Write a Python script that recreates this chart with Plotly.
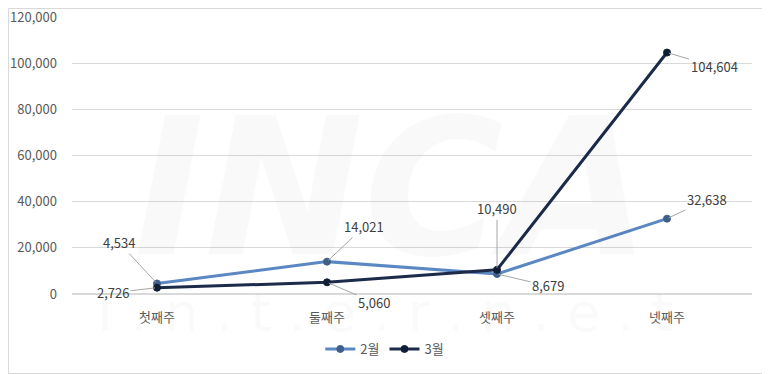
import plotly.graph_objects as go

categories = ["첫째주", "둘째주", "셋째주", "넷째주"]
series_names = ["2월", "3월"]
feb_values = [4534, 14021, 8679, 32638]
mar_values = [2726, 5060, 10490, 104604]
y_ticks = [0, 20000, 40000, 60000, 80000, 100000, 120000]

# label offsets (pixels) for the callout labels
feb_offsets = [(-38, -41), (37, -35), (51, 12), (40, -19)]
mar_offsets = [(-44, 5), (47, 20), (0, -61), (47, 14)]

FONT = "Noto Sans CJK KR"
# page body has an 8px margin, so the figure is sized to fit inside the window
W, H = 762, 366
ML, MR, MT, MB = 64, 18, 9, 80
PW, PH = W - ML - MR, H - MT - MB

fig = go.Figure()
fig.add_trace(go.Scatter(
    x=categories, y=feb_values, name=series_names[0], mode="lines+markers",
    line=dict(color="#5B87C2", width=3),
    marker=dict(color="#3F5E89", size=7, line=dict(color="#3F5E89", width=1)),
))
fig.add_trace(go.Scatter(
    x=categories, y=mar_values, name=series_names[1], mode="lines+markers",
    line=dict(color="#1C2B4A", width=3),
    marker=dict(color="#101D36", size=7, line=dict(color="#101D36", width=1)),
))

annotations = []
# faint watermark
annotations.append(dict(text="<b><i>INCA</i></b>", x=0.47, y=0.38, xref="paper", yref="paper",
                        showarrow=False, font=dict(family="DejaVu Sans", size=190,
                                                   color="rgba(0,0,0,0.022)")))
annotations.append(dict(text="I . n . t . e . r . n . e . t", x=0.46, y=(-52) / PH, xref="paper",
                        yref="paper", showarrow=False,
                        font=dict(family="DejaVu Sans", size=54, color="rgba(0,0,0,0.02)")))

for vals, offs in ((feb_values, feb_offsets), (mar_values, mar_offsets)):
    for c, v, (ax, ay) in zip(categories, vals, offs):
        annotations.append(dict(
            x=c, y=v, text=f"{v:,}", showarrow=True, arrowhead=0, arrowwidth=1,
            arrowcolor="#A6A6A6", ax=ax, ay=ay, standoff=2,
            font=dict(family=FONT, size=13, color="#404040"),
        ))

fig.update_layout(
    width=W, height=H,
    margin=dict(l=ML, r=MR, t=MT, b=MB, autoexpand=False),
    paper_bgcolor="white", plot_bgcolor="white",
    font=dict(family=FONT, size=13, color="#595959"),
    showlegend=True,
    legend=dict(orientation="h", x=0.46, xanchor="center", y=-55 / PH, yanchor="middle",
                font=dict(family=FONT, size=13, color="#595959"),
                tracegroupgap=0),
    annotations=annotations,
    shapes=[dict(type="rect", xref="paper", yref="paper",
                 x0=(-ML + 0.5) / PW, x1=(PW + MR - 0.5) / PW,
                 y0=(-MB + 0.5) / PH, y1=(PH + MT - 0.5) / PH,
                 line=dict(color="#D9D9D9", width=1), layer="below")],
)
fig.update_xaxes(range=[-0.5, len(categories) - 0.5], showgrid=False, showline=False,
                 zeroline=False, ticks="", automargin=False,
                 ticklabelstandoff=14, tickfont=dict(size=13, color="#595959"))
fig.update_yaxes(range=[0, 120000], tickvals=y_ticks, tickformat=",", showgrid=True,
                 gridcolor="#D9D9D9", gridwidth=1, zeroline=True, zerolinecolor="#D9D9D9",
                 showline=False, ticks="", ticklabelstandoff=14, automargin=False,
                 ticklabeloverflow="allow",
                 tickfont=dict(size=13, color="#595959"))

fig.write_html("out.html")
